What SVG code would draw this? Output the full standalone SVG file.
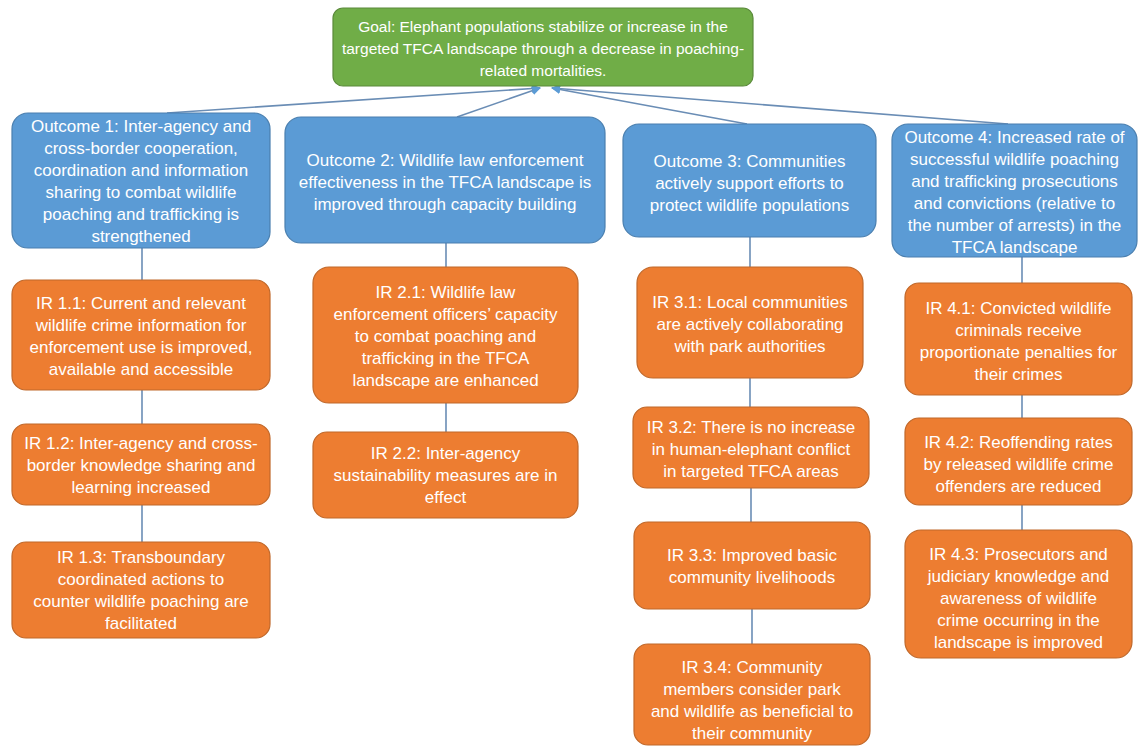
<svg xmlns="http://www.w3.org/2000/svg" width="1141" height="746" viewBox="0 0 1141 746">
<style>
.bx{stroke-width:1.2}
.g{fill:#70AD47;stroke:#5A8A3A}
.b{fill:#5B9BD5;stroke:#4A7FAF}
.o{fill:#ED7D31;stroke:#C0682A}
text{font-family:"Liberation Sans",Arial,sans-serif;font-size:17px;fill:#FFFFFF;text-anchor:middle}
.gt{font-size:15.5px}
.c{stroke:#6A8DB5;stroke-width:1.6;fill:none}
</style>
<defs>
<marker id="ah" viewBox="0 0 10 10" refX="9" refY="5" markerWidth="9" markerHeight="9" markerUnits="userSpaceOnUse" orient="auto">
<path d="M0,0 L10,5 L0,10 z" fill="#5B9BD5"/>
</marker>
</defs>
<rect width="1141" height="746" fill="#FFFFFF"/>
<g id="connectors">
<line class="c" x1="167" y1="113" x2="540" y2="88" marker-end="url(#ah)"/>
<line class="c" x1="457" y1="117" x2="540" y2="88" marker-end="url(#ah)"/>
<line class="c" x1="747" y1="124" x2="552" y2="88" marker-end="url(#ah)"/>
<line class="c" x1="1008" y1="124" x2="552" y2="88" marker-end="url(#ah)"/>
<line class="c" x1="142" y1="248" x2="142" y2="280"/>
<line class="c" x1="142" y1="390" x2="142" y2="424"/>
<line class="c" x1="142" y1="505" x2="142" y2="542"/>
<line class="c" x1="446" y1="243" x2="446" y2="267"/>
<line class="c" x1="446" y1="403" x2="446" y2="432"/>
<line class="c" x1="750" y1="237" x2="750" y2="267"/>
<line class="c" x1="750" y1="378" x2="750" y2="407"/>
<line class="c" x1="751" y1="488" x2="751" y2="522"/>
<line class="c" x1="752" y1="609" x2="752" y2="644"/>
<line class="c" x1="1022" y1="257" x2="1022" y2="283"/>
<line class="c" x1="1022" y1="395" x2="1022" y2="418"/>
<line class="c" x1="1022" y1="505" x2="1022" y2="530"/>
</g>
<g id="goal">
<rect class="bx g" x="333" y="8" width="420" height="78" rx="10"/>
<text class="gt" x="543" y="32">Goal: Elephant populations stabilize or increase in the</text>
<text class="gt" x="543" y="54">targeted TFCA landscape through a decrease in poaching-</text>
<text class="gt" x="543" y="76">related mortalities.</text>
</g>
<g id="outcome1">
<rect class="bx b" x="12" y="113" width="258" height="135" rx="16"/>
<text x="141" y="132">Outcome 1: Inter-agency and</text>
<text x="141" y="154">cross-border cooperation,</text>
<text x="141" y="176">coordination and information</text>
<text x="141" y="198">sharing to combat wildlife</text>
<text x="141" y="220">poaching and trafficking is</text>
<text x="141" y="242">strengthened</text>
</g>
<g id="outcome2">
<rect class="bx b" x="285" y="117" width="320" height="126" rx="16"/>
<text x="445" y="166">Outcome 2: Wildlife law enforcement</text>
<text x="445" y="188">effectiveness in the TFCA landscape is</text>
<text x="445" y="210">improved through capacity building</text>
</g>
<g id="outcome3">
<rect class="bx b" x="623" y="124" width="253" height="113" rx="16"/>
<text x="749.5" y="167">Outcome 3: Communities</text>
<text x="749.5" y="189">actively support efforts to</text>
<text x="749.5" y="211">protect wildlife populations</text>
</g>
<g id="outcome4">
<rect class="bx b" x="892" y="124" width="245" height="133" rx="16"/>
<text x="1014.5" y="143">Outcome 4: Increased rate of</text>
<text x="1014.5" y="165">successful wildlife poaching</text>
<text x="1014.5" y="187">and trafficking prosecutions</text>
<text x="1014.5" y="209">and convictions (relative to</text>
<text x="1014.5" y="231">the number of arrests) in the</text>
<text x="1014.5" y="253">TFCA landscape</text>
</g>
<g id="ir11">
<rect class="bx o" x="12" y="280" width="258" height="110" rx="14"/>
<text x="141" y="309">IR 1.1: Current and relevant</text>
<text x="141" y="331">wildlife crime information for</text>
<text x="141" y="353">enforcement use is improved,</text>
<text x="141" y="375">available and accessible</text>
</g>
<g id="ir12">
<rect class="bx o" x="12" y="424" width="258" height="81" rx="14"/>
<text x="141" y="449">IR 1.2: Inter-agency and cross-</text>
<text x="141" y="471">border knowledge sharing and</text>
<text x="141" y="493">learning increased</text>
</g>
<g id="ir13">
<rect class="bx o" x="12" y="542" width="258" height="96" rx="14"/>
<text x="141" y="563">IR 1.3: Transboundary</text>
<text x="141" y="585">coordinated actions to</text>
<text x="141" y="607">counter wildlife poaching are</text>
<text x="141" y="629">facilitated</text>
</g>
<g id="ir21">
<rect class="bx o" x="313" y="267" width="265" height="136" rx="16"/>
<text x="445.5" y="298">IR 2.1: Wildlife law</text>
<text x="445.5" y="320">enforcement officers’ capacity</text>
<text x="445.5" y="342">to combat poaching and</text>
<text x="445.5" y="364">trafficking in the TFCA</text>
<text x="445.5" y="386">landscape are enhanced</text>
</g>
<g id="ir22">
<rect class="bx o" x="313" y="432" width="265" height="86" rx="14"/>
<text x="445.5" y="459">IR 2.2: Inter-agency</text>
<text x="445.5" y="481">sustainability measures are in</text>
<text x="445.5" y="503">effect</text>
</g>
<g id="ir31">
<rect class="bx o" x="637" y="267" width="226" height="111" rx="16"/>
<text x="750" y="308">IR 3.1: Local communities</text>
<text x="750" y="330">are actively collaborating</text>
<text x="750" y="352">with park authorities</text>
</g>
<g id="ir32">
<rect class="bx o" x="633" y="407" width="236" height="81" rx="14"/>
<text x="751" y="433">IR 3.2: There is no increase</text>
<text x="751" y="455">in human-elephant conflict</text>
<text x="751" y="477">in targeted TFCA areas</text>
</g>
<g id="ir33">
<rect class="bx o" x="634" y="522" width="236" height="87" rx="14"/>
<text x="752" y="561">IR 3.3: Improved basic</text>
<text x="752" y="583">community livelihoods</text>
</g>
<g id="ir34">
<rect class="bx o" x="634" y="644" width="236" height="101" rx="14"/>
<text x="752" y="673">IR 3.4: Community</text>
<text x="752" y="695">members consider park</text>
<text x="752" y="717">and wildlife as beneficial to</text>
<text x="752" y="739">their community</text>
</g>
<g id="ir41">
<rect class="bx o" x="905" y="283" width="227" height="112" rx="14"/>
<text x="1018.5" y="314">IR 4.1: Convicted wildlife</text>
<text x="1018.5" y="336">criminals receive</text>
<text x="1018.5" y="358">proportionate penalties for</text>
<text x="1018.5" y="380">their crimes</text>
</g>
<g id="ir42">
<rect class="bx o" x="905" y="418" width="227" height="87" rx="14"/>
<text x="1018.5" y="448">IR 4.2: Reoffending rates</text>
<text x="1018.5" y="470">by released wildlife crime</text>
<text x="1018.5" y="492">offenders are reduced</text>
</g>
<g id="ir43">
<rect class="bx o" x="905" y="530" width="227" height="128" rx="16"/>
<text x="1018.5" y="560">IR 4.3: Prosecutors and</text>
<text x="1018.5" y="582">judiciary knowledge and</text>
<text x="1018.5" y="604">awareness of wildlife</text>
<text x="1018.5" y="626">crime occurring in the</text>
<text x="1018.5" y="648">landscape is improved</text>
</g>
</svg>
